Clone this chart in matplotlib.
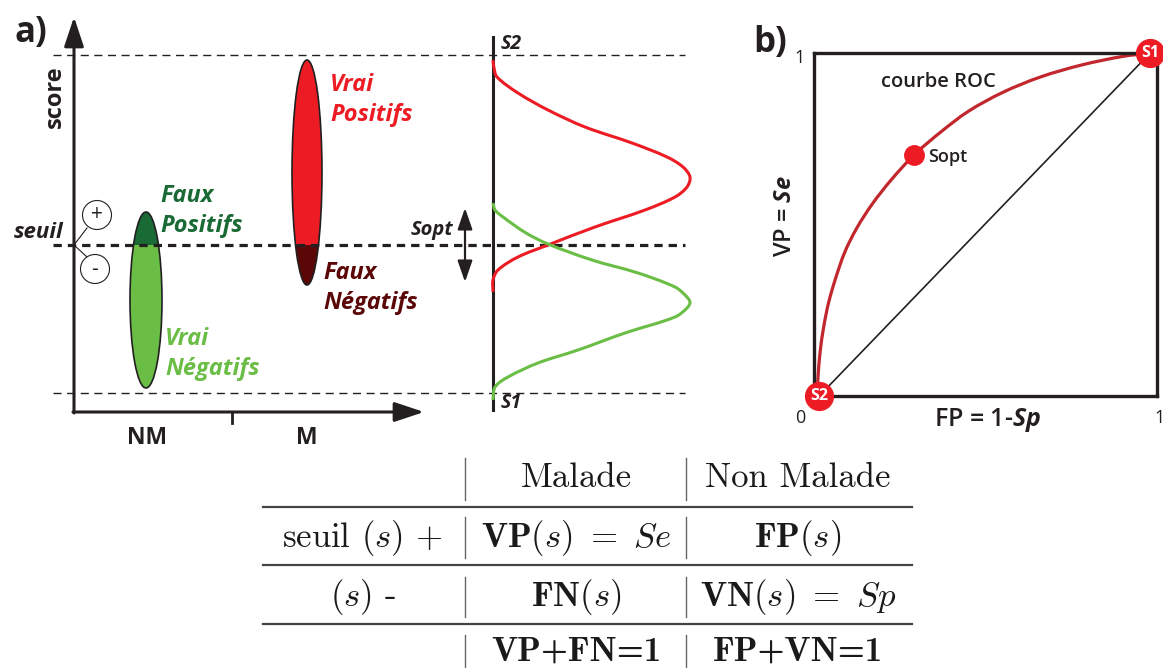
import matplotlib
matplotlib.use("Agg")
import matplotlib.pyplot as plt
from matplotlib import font_manager
from matplotlib.patches import Ellipse, Rectangle, Circle, PathPatch
from matplotlib.path import Path


def pick_family(candidates):
    # first family that really has a bold italic face
    for name in candidates:
        for f in font_manager.fontManager.ttflist:
            w = f.weight
            if isinstance(w, str):
                w = font_manager.weight_dict.get(w, 400)
            if f.name == name and f.style == 'italic' and w >= 600:
                return name
    return 'DejaVu Sans'


def smooth_path(xs, ys, sx=1.0, sy=1.0):
    # cubic Bezier through the read points, chord-length tangents
    pts = list(zip(xs, ys))
    n = len(pts)
    t = [0.0]
    for i in range(1, n):
        dx = (pts[i][0] - pts[i - 1][0]) * sx
        dy = (pts[i][1] - pts[i - 1][1]) * sy
        t.append(t[-1] + (dx * dx + dy * dy) ** 0.5)
    tang = []
    for i in range(n):
        a, b = max(i - 1, 0), min(i + 1, n - 1)
        dt = t[b] - t[a]
        tang.append(((pts[b][0] - pts[a][0]) / dt, (pts[b][1] - pts[a][1]) / dt))
    verts = [pts[0]]
    codes = [Path.MOVETO]
    for i in range(n - 1):
        h = (t[i + 1] - t[i]) / 3
        c1 = (pts[i][0] + tang[i][0] * h, pts[i][1] + tang[i][1] * h)
        c2 = (pts[i + 1][0] - tang[i + 1][0] * h, pts[i + 1][1] - tang[i + 1][1] * h)
        verts += [c1, c2, pts[i + 1]]
        codes += [Path.CURVE4] * 3
    return Path(verts, codes)


SANS = pick_family(['Open Sans', 'Lato', 'Noto Sans', 'Roboto'])

plt.rcParams['font.family'] = [SANS, 'DejaVu Sans']
plt.rcParams['lines.scale_dashes'] = False
plt.rcParams['mathtext.fontset'] = 'custom'
plt.rcParams['mathtext.rm'] = SANS
plt.rcParams['mathtext.it'] = SANS + ':italic:bold'
plt.rcParams['mathtext.bf'] = SANS + ':bold'

INK = '#231f20'
RED = '#ed1c24'
DARK_RED = '#5b0707'
GREEN = '#6abd45'
DARK_GREEN = '#1a6a35'
ROC_RED = '#c1272d'

# ---- panel a (pixel units of the picture) ----
seuil_y = 245
s2_y, s1_y = 55, 393

# ellipses: (centre x, centre y, width, height)
nm_ellipse = (146, 300, 32, 176)
m_ellipse = (307, 172.5, 30, 225)

# score distributions: score (y) and density (x)
red_score = [60, 68, 77, 93, 110, 127, 143, 157, 167, 177, 187, 197, 210, 227,
             245, 257, 270, 280, 292]
red_dens = [493, 494, 497, 518, 548, 585, 632, 667, 683, 690, 687, 675, 645,
            595, 548, 518, 498, 493, 493]
green_score = [203, 210, 217, 233, 244, 260, 273, 287, 295, 302, 308, 317, 333,
               350, 363, 377, 387, 400]
green_dens = [493, 495, 503, 526, 548, 592, 638, 675, 685, 690, 687, 675, 625,
              578, 538, 508, 495, 493]

# ---- panel b: ROC curve (FP, VP) ----
roc_fp = [0.009, 0.012, 0.018, 0.028, 0.042, 0.062, 0.09, 0.125, 0.17, 0.225,
          0.292, 0.37, 0.45, 0.55, 0.66, 0.78, 0.9, 0.985]
roc_vp = [0.0, 0.06, 0.13, 0.2, 0.27, 0.34, 0.42, 0.49, 0.56, 0.63, 0.703,
          0.77, 0.83, 0.885, 0.93, 0.965, 0.99, 1.0]
s_opt = (0.292, 0.703)
s2_pt = (0.015, 0.0)
s1_pt = (0.98, 1.0)

# ---- table ----
col_heads = ['Malade', 'Non Malade']
row_heads = [r'seuil $(s)$ $+$', r'$(s)$ -', '']
cells = [
    [r'$\mathbf{VP(}s\mathbf{)}\ =\ Se$', r'$\mathbf{FP(}s\mathbf{)}$'],
    [r'$\mathbf{FN(}s\mathbf{)}$', r'$\mathbf{VN(}s\mathbf{)}\ =\ Sp$'],
    ['VP+FN=1', 'FP+VN=1'],
]

fig = plt.figure(figsize=(11.63, 6.68), dpi=100)
ax = fig.add_axes([0, 0, 1, 1])
ax.set_xlim(0, 1163)
ax.set_ylim(668, 0)
ax.axis('off')

# axes arrows
arrow = dict(arrowstyle='-|>,head_length=1.8,head_width=0.6', lw=2.2,
             color=INK, shrinkA=0, shrinkB=0)
ax.annotate('', xy=(74, 17), xytext=(74, 413), arrowprops=arrow)
ax.annotate('', xy=(424, 412), xytext=(73, 412), arrowprops=arrow)
ax.plot([232, 232], [412, 423], color=INK, lw=2)

# dashed levels
ax.plot([53, 685], [s2_y, s2_y], color=INK, lw=1.0, ls=(0, (5.8, 4.0)))
ax.plot([53, 685], [s1_y, s1_y], color=INK, lw=1.0, ls=(0, (5.8, 4.0)))
ax.plot([53, 685], [seuil_y, seuil_y], color=INK, lw=2.3, ls=(0, (6.0, 4.3)),
        zorder=4)

# ellipses with the part on the other side of the threshold darker
for (cx, cy, w, h), light, dark, clip in [
        (nm_ellipse, GREEN, DARK_GREEN, (0, 0, 1163, seuil_y)),
        (m_ellipse, RED, DARK_RED, (0, seuil_y, 1163, 668 - seuil_y))]:
    ax.add_patch(Ellipse((cx, cy), w, h, fc=light, ec='none', zorder=2))
    cap = Ellipse((cx, cy), w, h, fc=dark, ec='none', zorder=3)
    ax.add_patch(cap)
    cap.set_clip_path(Rectangle(clip[:2], clip[2], clip[3],
                                transform=ax.transData))
    ax.add_patch(Ellipse((cx, cy), w, h, fc='none', ec=INK, lw=1.2, zorder=5))

# distributions
ax.plot([493, 493], [37, 410], color=INK, lw=2.2, zorder=3)
ax.add_patch(PathPatch(smooth_path(red_dens, red_score), fc='none', ec=RED,
                       lw=2.2, zorder=5))
ax.add_patch(PathPatch(smooth_path(green_dens, green_score), fc='none',
                       ec=GREEN, lw=2.2, zorder=5))

# threshold symbols
for (x, y), sym in [((97, 215), '+'), ((95, 269), '-')]:
    ax.add_patch(Circle((x, y), 14.5, fc='white', ec=INK, lw=0.8, zorder=5))
    ax.text(x, y, sym, ha='center', va='center', fontsize=15, color=INK,
            zorder=6)
ax.plot([87, 74, 87], [228, 245, 257], color=INK, lw=0.8)

ax.annotate('', xy=(465, 208), xytext=(465, 282),
            arrowprops=dict(arrowstyle='<|-|>,head_length=1.3,head_width=0.45',
                            lw=1.6, color=INK, shrinkA=0, shrinkB=0))

# texts panel a
ax.text(14, 33, 'a)', fontsize=25, fontweight='bold', color=INK,
        ha='left', va='center')
ax.text(55, 97, 'score', fontsize=17, fontweight='bold', color=INK,
        rotation=90, ha='center', va='center')
ax.text(63, 232, 'seuil', fontsize=16, fontweight='bold', style='italic',
        color=INK, ha='right', va='center')
ax.text(147, 438, 'NM', fontsize=16.5, fontweight='bold', color=INK,
        ha='center', va='center')
ax.text(307, 438, 'M', fontsize=16.5, fontweight='bold', color=INK,
        ha='center', va='center')
lab = dict(fontsize=17, fontweight='bold', style='italic', ha='left',
           va='center', linespacing=1.35)
ax.text(330, 100, 'Vrai\nPositifs', color=RED, **lab)
ax.text(160, 211, 'Faux\nPositifs', color=DARK_GREEN, **lab)
ax.text(323, 288, 'Faux\nNégatifs', color=DARK_RED, **lab)
ax.text(165, 354, 'Vrai\nNégatifs', color=GREEN, **lab)
ax.text(411, 230, 'Sopt', fontsize=14.5, fontweight='bold', style='italic',
        color=INK, ha='left', va='center')
ax.text(501, 44, 'S2', fontsize=14, fontweight='bold', style='italic',
        color=INK, ha='left', va='center')
ax.text(501, 403, 'S1', fontsize=14, fontweight='bold', style='italic',
        color=INK, ha='left', va='center')

# ---- panel b ----
axb = fig.add_axes([814 / 1163, 1 - 396 / 668, 343 / 1163, 343 / 668])
axb.set_xlim(0, 1)
axb.set_ylim(0, 1)
axb.patch.set_visible(False)
axb.set_xticks([])
axb.set_yticks([])
for sp in axb.spines.values():
    sp.set_linewidth(2.4)
    sp.set_color(INK)
axb.plot([s2_pt[0], s1_pt[0]], [s2_pt[1], s1_pt[1]], color=INK, lw=1.2)
roc = PathPatch(smooth_path(roc_fp, roc_vp), fc='none', ec=ROC_RED, lw=2.3,
                transform=axb.transData, clip_on=False)
axb.add_patch(roc)
axb.plot(*s_opt, 'o', ms=14, color=RED, clip_on=False)
for (x, y), name in [(s2_pt, 'S2'), (s1_pt, 'S1')]:
    axb.plot(x, y, 'o', ms=20, color=RED, clip_on=False, zorder=5)
    axb.text(x, y, name, fontsize=11.5, fontweight='bold', color='white',
             ha='center', va='center', zorder=6, clip_on=False)

ax.text(770, 43, 'b)', fontsize=25, fontweight='bold', color=INK,
        ha='center', va='center')
ax.text(800, 58, '1', fontsize=13, color=INK, ha='center', va='center')
ax.text(800, 418, '0', fontsize=13, color=INK, ha='center', va='center')
ax.text(1160, 418, '1', fontsize=13, color=INK, ha='center', va='center')
ax.text(938, 82, 'courbe ROC', fontsize=14.5, fontweight='semibold',
        color=INK, ha='center', va='center')
ax.text(928, 157, 'Sopt', fontsize=13, fontweight='semibold', color=INK,
        ha='left', va='center')
ax.text(785, 216, r'VP = $\mathit{Se}$', fontsize=17, fontweight='semibold',
        color=INK, rotation=90, ha='center', va='center')
ax.text(988, 420, r'FP = 1-$\mathit{Sp}$', fontsize=18, fontweight='semibold',
        color=INK, ha='center', va='center')

# ---- table ----
col_x = [363, 576, 798]
row_y = [478, 538, 597, 652]
tfs = 25
tcol = '#1a1a1a'
for x, t in zip(col_x[1:], col_heads):
    ax.text(x, row_y[0], t, fontsize=tfs, family='cmr10', ha='center',
            va='center', color=tcol)
for y, t in zip(row_y[1:], row_heads):
    ax.text(col_x[0], y, t, fontsize=tfs, family='cmr10', math_fontfamily='cm',
            ha='center', va='center', color=tcol)
for i, row in enumerate(cells):
    for j, t in enumerate(row):
        if t.startswith('$'):
            ax.text(col_x[j + 1], row_y[i + 1], t, fontsize=tfs,
                    math_fontfamily='cm', ha='center', va='center',
                    color=tcol)
        else:
            ax.text(col_x[j + 1], row_y[i + 1], t, fontsize=tfs,
                    family='cmb10', ha='center', va='center', color=tcol)
for y in [507, 565, 624]:
    ax.plot([263, 912], [y, y], color='#444444', lw=1.6)
for x in [465, 686]:
    for y0, y1 in [(458, 500), (517, 558), (577, 617), (635, 668)]:
        ax.plot([x, x], [y0, y1], color='#666666', lw=1.0)

fig.savefig('out.png', dpi=100)
